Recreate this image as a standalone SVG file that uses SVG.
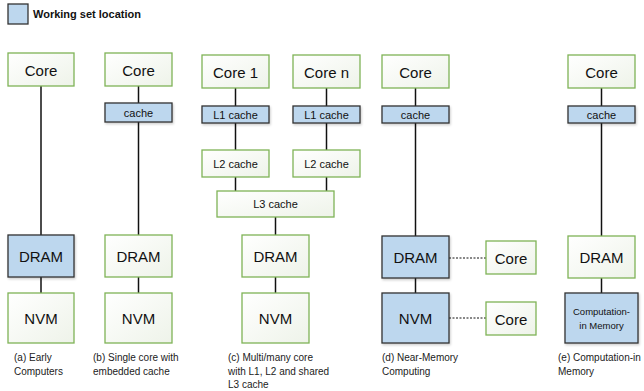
<svg xmlns="http://www.w3.org/2000/svg" width="644" height="391" viewBox="0 0 644 391">
<defs>
<linearGradient id="gg" x1="0" y1="0" x2="1" y2="1">
<stop offset="0" stop-color="#ffffff"/>
<stop offset="1" stop-color="#eef3e9"/>
</linearGradient>
<filter id="sh" x="-10%" y="-10%" width="130%" height="140%">
<feDropShadow dx="1" dy="1.5" stdDeviation="1" flood-color="#000" flood-opacity="0.2"/>
</filter>
</defs>
<style>
.g{fill:url(#gg);stroke:#7fb356;stroke-width:1.3}
.b{fill:#bdd7ee;stroke:#333;stroke-width:1.3;filter:url(#sh)}
.t{font-family:"Liberation Sans",Arial,sans-serif;fill:#111;text-anchor:middle;dominant-baseline:central}
.L{font-size:15px}
.s{font-size:11px}
.cap{font-family:"Liberation Sans",Arial,sans-serif;font-size:10px;fill:#222}
.ln{stroke:#111;stroke-width:1.5;fill:none}
.dt{stroke:#111;stroke-width:1;stroke-dasharray:2 1.5;fill:none}
</style>
<rect width="644" height="391" fill="#fff"/>
<g id="legend">
<rect class="b" x="8" y="4" width="20" height="20" style="filter:none"/>
<text x="33" y="18" font-family="Liberation Sans,Arial,sans-serif" font-size="11" font-weight="bold" fill="#111">Working set location</text>
</g>
<g id="connectors">
<line class="ln" x1="41" y1="86" x2="41" y2="235"/>
<line class="ln" x1="41" y1="277" x2="41" y2="293"/>
<line class="ln" x1="138.5" y1="86" x2="138.5" y2="103"/>
<line class="ln" x1="138.5" y1="122" x2="138.5" y2="235"/>
<line class="ln" x1="138.5" y1="277" x2="138.5" y2="293"/>
<line class="ln" x1="235.5" y1="88" x2="235.5" y2="106"/>
<line class="ln" x1="235.5" y1="123" x2="235.5" y2="150"/>
<line class="ln" x1="235.5" y1="177" x2="235.5" y2="191"/>
<line class="ln" x1="326.5" y1="88" x2="326.5" y2="106"/>
<line class="ln" x1="326.5" y1="123" x2="326.5" y2="150"/>
<line class="ln" x1="326.5" y1="177" x2="326.5" y2="191"/>
<line class="ln" x1="275.5" y1="217" x2="275.5" y2="235"/>
<line class="ln" x1="275.5" y1="277" x2="275.5" y2="293"/>
<line class="ln" x1="415.5" y1="88" x2="415.5" y2="106"/>
<line class="ln" x1="415.5" y1="123" x2="415.5" y2="236"/>
<line class="ln" x1="415.5" y1="278" x2="415.5" y2="293"/>
<line class="dt" x1="449" y1="258" x2="486" y2="258"/>
<line class="dt" x1="449" y1="318" x2="486" y2="318"/>
<line class="ln" x1="601.5" y1="88" x2="601.5" y2="106"/>
<line class="ln" x1="601.5" y1="123" x2="601.5" y2="236"/>
<line class="ln" x1="601.5" y1="278" x2="601.5" y2="293"/>
</g>
<g id="a-core"><rect class="g" x="8" y="53" width="66" height="33"/><text class="t L" x="41" y="70">Core</text></g>
<g id="a-dram"><rect class="b" x="8" y="235" width="66" height="42"/><text class="t L" x="41" y="256">DRAM</text></g>
<g id="a-nvm"><rect class="g" x="8" y="293" width="66" height="50"/><text class="t L" x="41" y="318">NVM</text></g>
<g id="b-core"><rect class="g" x="105" y="53" width="67" height="33"/><text class="t L" x="138.5" y="70">Core</text></g>
<g id="b-cache"><rect class="b" x="105" y="103" width="67" height="19"/><text class="t s" x="138.5" y="112.5">cache</text></g>
<g id="b-dram"><rect class="g" x="105" y="235" width="67" height="42"/><text class="t L" x="138.5" y="256">DRAM</text></g>
<g id="b-nvm"><rect class="g" x="105" y="293" width="67" height="50"/><text class="t L" x="138.5" y="318">NVM</text></g>
<g id="c-core1"><rect class="g" x="202" y="55" width="67" height="33"/><text class="t L" x="235.5" y="72">Core 1</text></g>
<g id="c-coren"><rect class="g" x="293" y="55" width="67" height="33"/><text class="t L" x="326.5" y="72">Core n</text></g>
<g id="c-l1a"><rect class="b" x="202" y="106" width="67" height="17"/><text class="t s" x="235.5" y="114.5">L1 cache</text></g>
<g id="c-l1b"><rect class="b" x="293" y="106" width="67" height="17"/><text class="t s" x="326.5" y="114.5">L1 cache</text></g>
<g id="c-l2a"><rect class="g" x="202" y="150" width="67" height="27"/><text class="t s" x="235.5" y="163.5">L2 cache</text></g>
<g id="c-l2b"><rect class="g" x="293" y="150" width="67" height="27"/><text class="t s" x="326.5" y="163.5">L2 cache</text></g>
<g id="c-l3"><rect class="g" x="217" y="191" width="117" height="26"/><text class="t s" x="275.5" y="204">L3 cache</text></g>
<g id="c-dram"><rect class="g" x="242" y="235" width="67" height="42"/><text class="t L" x="275.5" y="256">DRAM</text></g>
<g id="c-nvm"><rect class="g" x="242" y="293" width="67" height="50"/><text class="t L" x="275.5" y="318">NVM</text></g>
<g id="d-core"><rect class="g" x="382" y="55" width="67" height="33"/><text class="t L" x="415.5" y="72">Core</text></g>
<g id="d-cache"><rect class="b" x="382" y="106" width="67" height="17"/><text class="t s" x="415.5" y="114.5">cache</text></g>
<g id="d-dram"><rect class="b" x="382" y="236" width="67" height="42"/><text class="t L" x="415.5" y="257">DRAM</text></g>
<g id="d-nvm"><rect class="b" x="382" y="293" width="67" height="50"/><text class="t L" x="415.5" y="318">NVM</text></g>
<g id="d-core2"><rect class="g" x="486" y="241" width="50" height="33"/><text class="t L" x="511" y="258">Core</text></g>
<g id="d-core3"><rect class="g" x="486" y="302" width="50" height="33"/><text class="t L" x="511" y="319">Core</text></g>
<g id="e-core"><rect class="g" x="568" y="55" width="67" height="33"/><text class="t L" x="601.5" y="72">Core</text></g>
<g id="e-cache"><rect class="b" x="568" y="106" width="67" height="17"/><text class="t s" x="601.5" y="114.5">cache</text></g>
<g id="e-dram"><rect class="g" x="568" y="236" width="67" height="42"/><text class="t L" x="601.5" y="257">DRAM</text></g>
<g id="e-cim"><rect class="b" x="565" y="293" width="73" height="50"/><text class="t" font-size="9.5" x="601.5" y="311.5">Computation-</text><text class="t" font-size="9.5" x="601.5" y="325.5">in Memory</text></g>
<g id="captions">
<text class="cap" x="14" y="361">(a) Early</text>
<text class="cap" x="14" y="375">Computers</text>
<text class="cap" x="93" y="361">(b) Single core with</text>
<text class="cap" x="93" y="375">embedded cache</text>
<text class="cap" x="228" y="361">(c) Multi/many core</text>
<text class="cap" x="228" y="375">with L1, L2 and shared</text>
<text class="cap" x="228" y="388">L3 cache</text>
<text class="cap" x="382" y="361">(d) Near-Memory</text>
<text class="cap" x="382" y="375">Computing</text>
<text class="cap" x="558" y="361">(e) Computation-in</text>
<text class="cap" x="558" y="375">Memory</text>
</g>
</svg>
